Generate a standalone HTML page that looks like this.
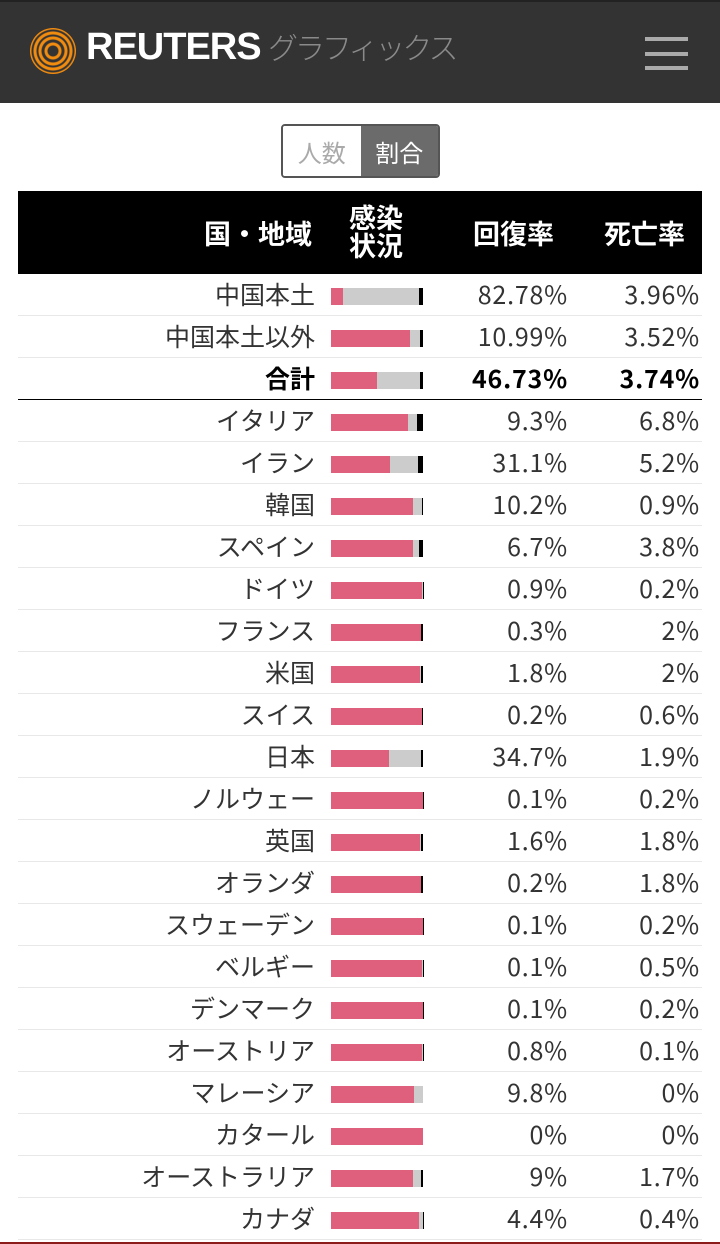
<!DOCTYPE html>
<html><head><meta charset="utf-8"><style>
*{margin:0;padding:0;box-sizing:border-box}
body{width:720px;height:1244px;background:#fff;font-family:"Noto Sans CJK JP","Liberation Sans",sans-serif;position:relative;overflow:hidden}
.hdr{position:absolute;left:0;top:0;width:720px;height:103px;background:#333;border-top:2px solid #222}
.logo{position:absolute;left:30px;top:26px;width:46px;height:46px;border-radius:50%;background:radial-gradient(circle,#333 0 5px,#f28c0f 6px 8px,#333 9px 11px,#f28c0f 12px 14px,#333 15px 16px,#f28c0f 17px 19px,#333 20px 21px,#f28c0f 22px 23px)}
.rt{position:absolute;left:86px;top:24px;color:#fff;font-family:"Liberation Sans",sans-serif;font-size:38px;font-weight:bold;letter-spacing:-1px}
.gr{position:absolute;left:268px;top:22px;color:#8a8a8a;font-size:30px;font-weight:300;letter-spacing:-3px}
.menu{position:absolute;left:645px;width:43px;height:4px;background:#aaa}
.tog{position:absolute;left:281px;top:124px;width:159px;height:54px;border:2px solid #555;border-radius:4px;overflow:hidden;display:flex;font-size:24px}
.tog div{width:50%;display:flex;align-items:center;justify-content:center}
.th{position:absolute;left:18px;top:191px;width:684px;height:83px;background:#000;color:#fff;font-weight:bold;font-size:27px}
.th span{position:absolute;line-height:30px}
.row{position:absolute;left:18px;width:684px;height:42px;border-bottom:1px solid #e8e8e8;font-size:25px;color:#333;line-height:42px}
.row .n{position:absolute;right:387px;top:-1px;white-space:nowrap}
.row .r{position:absolute;right:134px;top:-1px;letter-spacing:0.8px}
.row .d{position:absolute;right:2px;top:-1px;letter-spacing:0.8px}
.bar{position:absolute;left:313px;top:14px;width:92px;height:17px;display:flex}
.bar i{display:block;height:100%}
.a{background:#de607c}.g{background:#ccc}.k{background:#000}
.b{font-weight:bold;color:#000}
</style></head><body>
<div class="hdr"><div class="logo"></div><div class="rt">REUTERS</div><div class="gr">グラフィックス</div>
<div class="menu" style="top:35px"></div><div class="menu" style="top:50px"></div><div class="menu" style="top:64px"></div></div>
<div class="tog"><div style="color:#aaa;background:#fff">人数</div><div style="background:#6b6b6b;color:#fff">割合</div></div>
<div class="th"><span style="left:186px;top:27px">国・地域</span><span style="left:331px;top:12px;line-height:28px">感染<br>状況</span><span style="left:455px;top:27px">回復率</span><span style="left:586px;top:27px">死亡率</span></div>

<div class="row" style="top:274px"><span class="n">中国本土</span><div class="bar"><i class="a" style="width:13.26%"></i><i class="g" style="width:82.78%"></i><i class="k" style="width:3.96%"></i></div><span class="r">82.78%</span><span class="d">3.96%</span></div>
<div class="row" style="top:316px"><span class="n">中国本土以外</span><div class="bar"><i class="a" style="width:85.49%"></i><i class="g" style="width:10.99%"></i><i class="k" style="width:3.52%"></i></div><span class="r">10.99%</span><span class="d">3.52%</span></div>
<div class="row b" style="top:358px;border-bottom:1.5px solid #000"><span class="n">合計</span><div class="bar"><i class="a" style="width:49.53%"></i><i class="g" style="width:46.73%"></i><i class="k" style="width:3.74%"></i></div><span class="r">46.73%</span><span class="d">3.74%</span></div>
<div class="row" style="top:400px"><span class="n">イタリア</span><div class="bar"><i class="a" style="width:83.9%"></i><i class="g" style="width:9.3%"></i><i class="k" style="width:6.8%"></i></div><span class="r">9.3%</span><span class="d">6.8%</span></div>
<div class="row" style="top:442px"><span class="n">イラン</span><div class="bar"><i class="a" style="width:63.7%"></i><i class="g" style="width:31.1%"></i><i class="k" style="width:5.2%"></i></div><span class="r">31.1%</span><span class="d">5.2%</span></div>
<div class="row" style="top:484px"><span class="n">韓国</span><div class="bar"><i class="a" style="width:88.9%"></i><i class="g" style="width:10.2%"></i><i class="k" style="width:0.9%"></i></div><span class="r">10.2%</span><span class="d">0.9%</span></div>
<div class="row" style="top:526px"><span class="n">スペイン</span><div class="bar"><i class="a" style="width:89.5%"></i><i class="g" style="width:6.7%"></i><i class="k" style="width:3.8%"></i></div><span class="r">6.7%</span><span class="d">3.8%</span></div>
<div class="row" style="top:568px"><span class="n">ドイツ</span><div class="bar"><i class="a" style="width:98.9%"></i><i class="g" style="width:0.9%"></i><i class="k" style="width:0.2%"></i></div><span class="r">0.9%</span><span class="d">0.2%</span></div>
<div class="row" style="top:610px"><span class="n">フランス</span><div class="bar"><i class="a" style="width:97.7%"></i><i class="g" style="width:0.3%"></i><i class="k" style="width:2%"></i></div><span class="r">0.3%</span><span class="d">2%</span></div>
<div class="row" style="top:652px"><span class="n">米国</span><div class="bar"><i class="a" style="width:96.2%"></i><i class="g" style="width:1.8%"></i><i class="k" style="width:2%"></i></div><span class="r">1.8%</span><span class="d">2%</span></div>
<div class="row" style="top:694px"><span class="n">スイス</span><div class="bar"><i class="a" style="width:99.2%"></i><i class="g" style="width:0.2%"></i><i class="k" style="width:0.6%"></i></div><span class="r">0.2%</span><span class="d">0.6%</span></div>
<div class="row" style="top:736px"><span class="n">日本</span><div class="bar"><i class="a" style="width:63.4%"></i><i class="g" style="width:34.7%"></i><i class="k" style="width:1.9%"></i></div><span class="r">34.7%</span><span class="d">1.9%</span></div>
<div class="row" style="top:778px"><span class="n">ノルウェー</span><div class="bar"><i class="a" style="width:99.7%"></i><i class="g" style="width:0.1%"></i><i class="k" style="width:0.2%"></i></div><span class="r">0.1%</span><span class="d">0.2%</span></div>
<div class="row" style="top:820px"><span class="n">英国</span><div class="bar"><i class="a" style="width:96.6%"></i><i class="g" style="width:1.6%"></i><i class="k" style="width:1.8%"></i></div><span class="r">1.6%</span><span class="d">1.8%</span></div>
<div class="row" style="top:862px"><span class="n">オランダ</span><div class="bar"><i class="a" style="width:98%"></i><i class="g" style="width:0.2%"></i><i class="k" style="width:1.8%"></i></div><span class="r">0.2%</span><span class="d">1.8%</span></div>
<div class="row" style="top:904px"><span class="n">スウェーデン</span><div class="bar"><i class="a" style="width:99.7%"></i><i class="g" style="width:0.1%"></i><i class="k" style="width:0.2%"></i></div><span class="r">0.1%</span><span class="d">0.2%</span></div>
<div class="row" style="top:946px"><span class="n">ベルギー</span><div class="bar"><i class="a" style="width:99.4%"></i><i class="g" style="width:0.1%"></i><i class="k" style="width:0.5%"></i></div><span class="r">0.1%</span><span class="d">0.5%</span></div>
<div class="row" style="top:988px"><span class="n">デンマーク</span><div class="bar"><i class="a" style="width:99.7%"></i><i class="g" style="width:0.1%"></i><i class="k" style="width:0.2%"></i></div><span class="r">0.1%</span><span class="d">0.2%</span></div>
<div class="row" style="top:1030px"><span class="n">オーストリア</span><div class="bar"><i class="a" style="width:99.1%"></i><i class="g" style="width:0.8%"></i><i class="k" style="width:0.1%"></i></div><span class="r">0.8%</span><span class="d">0.1%</span></div>
<div class="row" style="top:1072px"><span class="n">マレーシア</span><div class="bar"><i class="a" style="width:90.2%"></i><i class="g" style="width:9.8%"></i></div><span class="r">9.8%</span><span class="d">0%</span></div>
<div class="row" style="top:1114px"><span class="n">カタール</span><div class="bar"><i class="a" style="width:100%"></i></div><span class="r">0%</span><span class="d">0%</span></div>
<div class="row" style="top:1156px"><span class="n">オーストラリア</span><div class="bar"><i class="a" style="width:89.3%"></i><i class="g" style="width:9%"></i><i class="k" style="width:1.7%"></i></div><span class="r">9%</span><span class="d">1.7%</span></div>
<div class="row" style="top:1198px"><span class="n">カナダ</span><div class="bar"><i class="a" style="width:95.2%"></i><i class="g" style="width:4.4%"></i><i class="k" style="width:0.4%"></i></div><span class="r">4.4%</span><span class="d">0.4%</span></div>
<div style="position:absolute;left:0;top:1242px;width:720px;height:2px;background:#8b1a1a"></div>
</body></html>
